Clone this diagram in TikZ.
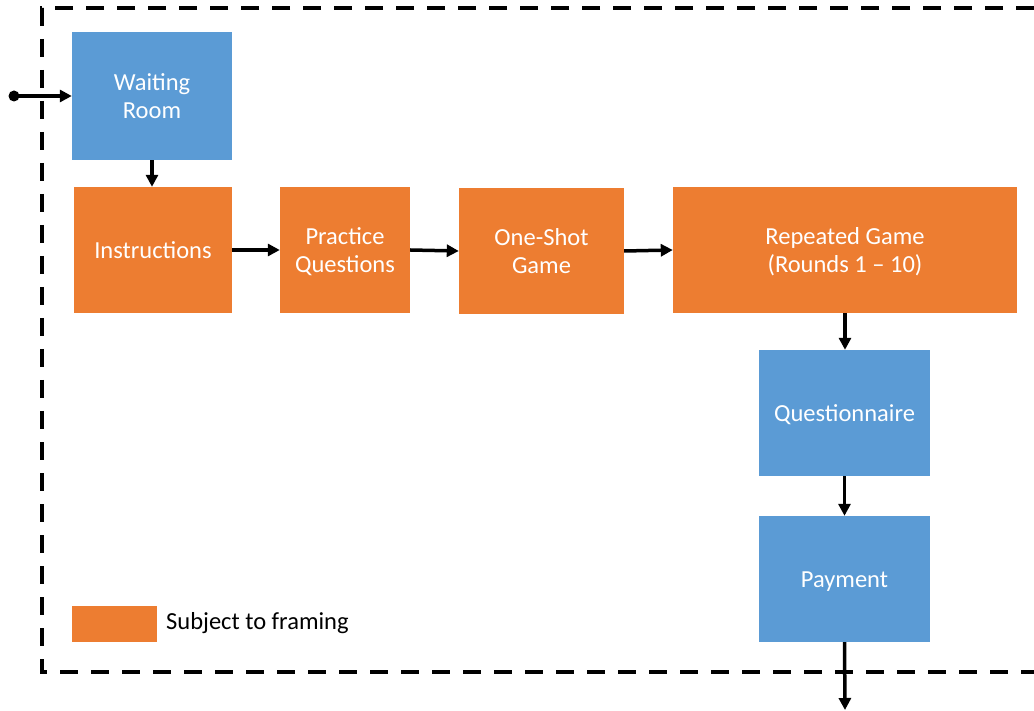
\documentclass[tikz,border=0pt]{standalone}
\usepackage{fontspec}
\setmainfont{Carlito}
\usetikzlibrary{arrows.meta}
\definecolor{boxblue}{HTML}{5B9BD5}
\definecolor{boxorange}{HTML}{ED7D31}
% centred stage caption, set a little below the box centre
\newcommand{\stagetext}[1]{\raisebox{-9pt}[0pt][0pt]{\begin{tabular}{@{}c@{}}#1\end{tabular}}}
\tikzset{
  stage/.style={draw=none, text=white, inner sep=0pt,
    font=\fontsize{24.5}{28.5}\selectfont},
  bluestage/.style={stage, fill=boxblue},
  orangestage/.style={stage, fill=boxorange},
  flow/.style={line width=3.5pt, -{Triangle[length=12pt,width=12pt]}},
  frame/.style={line width=4pt, dash pattern=on 18pt off 13pt},
}
\begin{document}
\begin{tikzpicture}[x=1pt, y=-1pt]
\useasboundingbox (0,0) rectangle (1034,711);
% dashed enclosure, open on the right
\coordinate (ftr) at (1034,8);
\coordinate (ftl) at (42,8);
\coordinate (fbl) at (42,672);
\coordinate (fbr) at (1034,672);
\draw[frame] (ftr) -- (ftl) -- (fbl) -- (fbr);

% stages
\node[bluestage, minimum width=160pt, minimum height=128pt] (wait) at (152,96) {\stagetext{Waiting\\Room}};
\node[orangestage, minimum width=158pt, minimum height=126pt] (instr) at (153,250) {\stagetext{Instructions}};
\node[orangestage, minimum width=130pt, minimum height=126pt] (prac) at (345,250) {\stagetext{Practice\\Questions}};
\node[orangestage, minimum width=165pt, minimum height=126pt] (one) at (541.5,251) {\stagetext{One-Shot\\Game}};
\node[orangestage, minimum width=344pt, minimum height=126pt] (rep) at (845,250) {\stagetext{Repeated Game\\(Rounds 1 -- 10)}};
\node[bluestage, minimum width=171pt, minimum height=126pt] (quest) at (844.5,413) {\stagetext{Questionnaire}};
\node[bluestage, minimum width=171pt, minimum height=126pt] (pay) at (844.5,579) {\stagetext{Payment}};

% legend
\node[orangestage, minimum width=85pt, minimum height=36pt] (key) at (114.5,624) {};
\node[anchor=west, inner sep=0pt, font=\fontsize{24.5}{28}\selectfont] (keytext) at (166,623) {Subject to framing};

% entry and exit
\coordinate (entry) at (14,96);
\coordinate (exit) at (845,710);
\fill (entry) circle (5.5pt);
\draw[flow] (entry) -- (wait.west);

% flow arrows
\draw[flow] (wait.south) -- (instr.north -| wait.south);
\draw[flow] (instr.east) -- (prac.west);
\draw[flow] (prac.east) -- (one.west);
\draw[flow] (one.east) -- (rep.west);
\draw[flow] (rep.south) -- (quest.north -| rep.south);
\draw[flow] (quest.south) -- (pay.north);
\draw[flow] (pay.south) -- (exit);
\end{tikzpicture}
\end{document}
